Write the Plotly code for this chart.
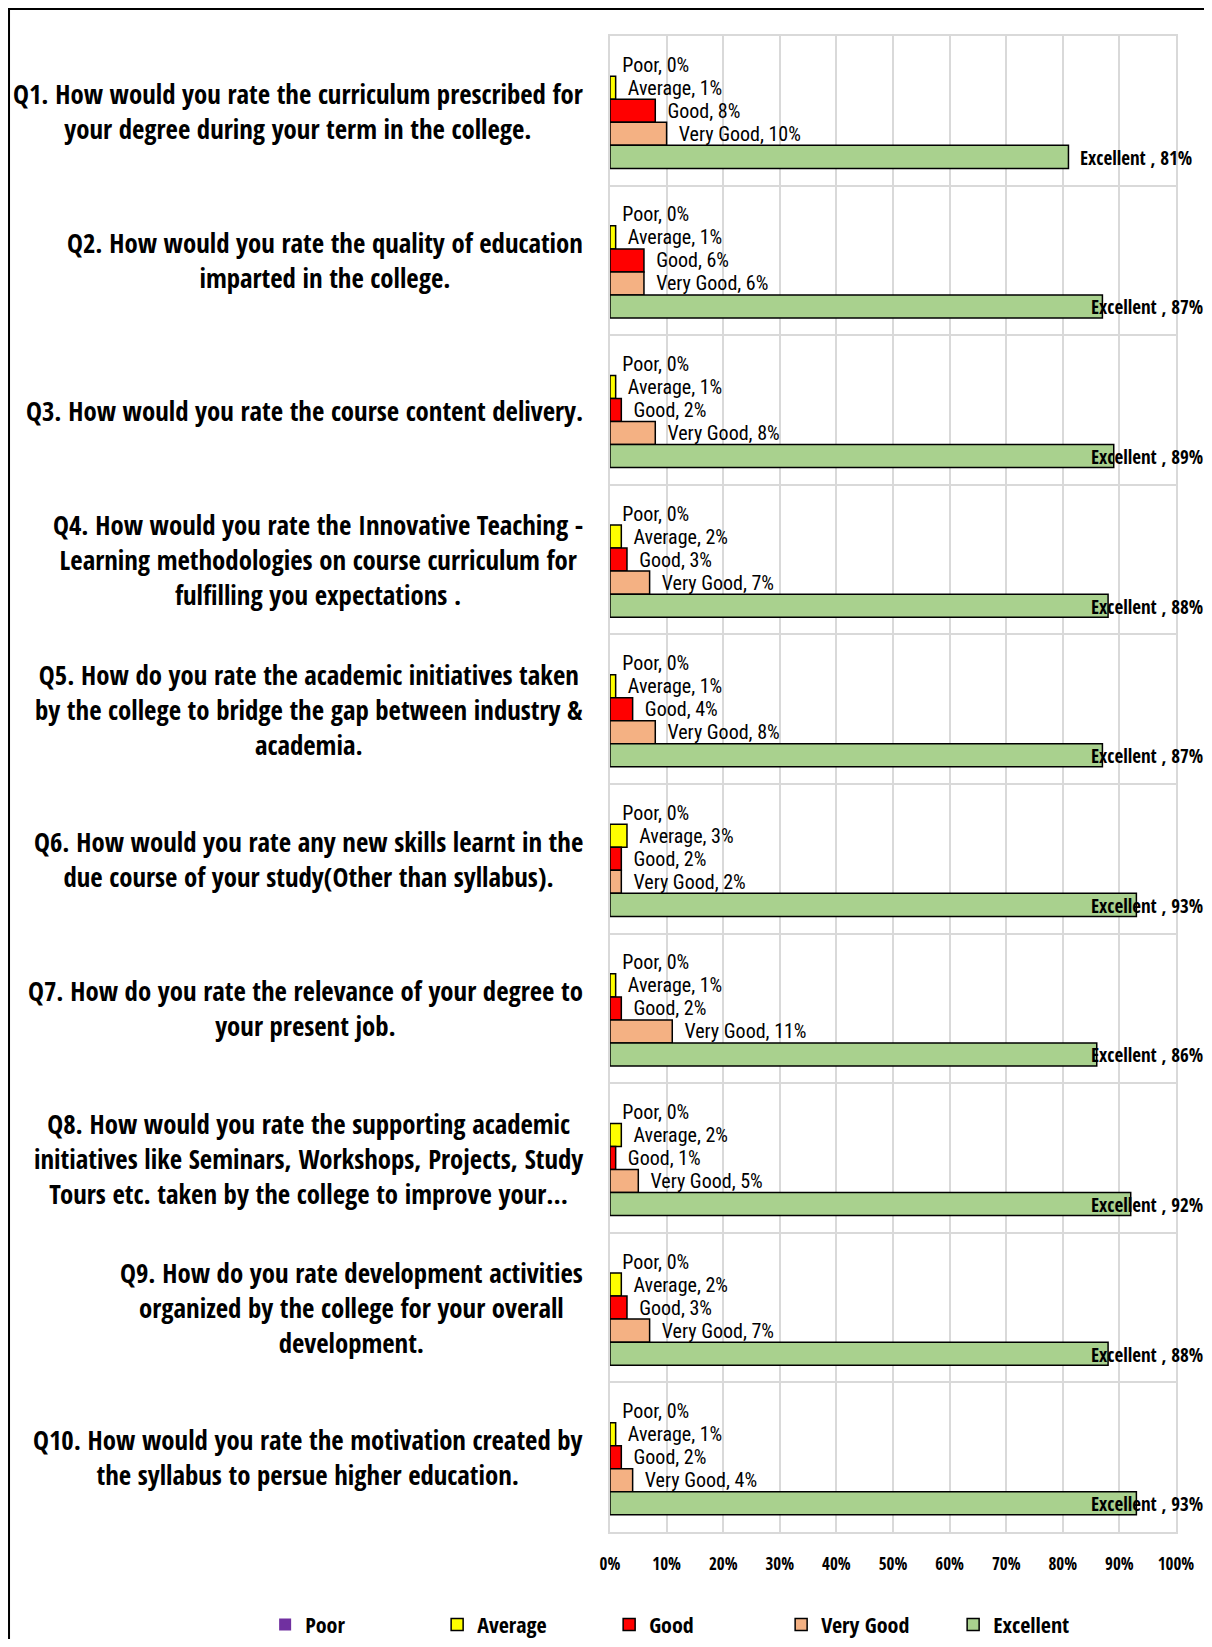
import plotly.graph_objects as go

# ---------------- data ----------------
questions = ["Q1", "Q2", "Q3", "Q4", "Q5", "Q6", "Q7", "Q8", "Q9", "Q10"]
question_lines = [
    ["Q1. How would you rate the curriculum prescribed for", "your degree during your term in the college."],
    ["Q2. How would you rate the quality of education", "imparted in the college."],
    ["Q3. How would you rate the course content delivery."],
    ["Q4. How would you rate the Innovative Teaching -", "Learning methodologies on course curriculum for", "fulfilling you expectations ."],
    ["Q5. How do you rate the academic initiatives taken", "by the college to bridge the gap between industry &amp;", "academia."],
    ["Q6. How would you rate any new skills learnt in the", "due course of your study(Other than syllabus)."],
    ["Q7. How do you rate the relevance of your degree to", "your present job."],
    ["Q8. How would you rate the supporting academic", "initiatives like Seminars, Workshops, Projects, Study", "Tours etc. taken by the college to improve your..."],
    ["Q9. How do you rate development activities", "organized by the college for your overall", "development."],
    ["Q10. How would you rate the motivation created by", "the syllabus to persue higher education."],
]
ratings = ["Poor", "Average", "Good", "Very Good", "Excellent"]
poor = [0, 0, 0, 0, 0, 0, 0, 0, 0, 0]
average = [1, 1, 1, 2, 1, 3, 1, 2, 2, 1]
good = [8, 6, 2, 3, 4, 2, 2, 1, 3, 2]
very_good = [10, 6, 8, 7, 8, 2, 11, 5, 7, 4]
excellent = [81, 87, 89, 88, 87, 93, 86, 92, 88, 93]
x_ticks = [0, 10, 20, 30, 40, 50, 60, 70, 80, 90, 100]

# ---------------- style ----------------
HEAVY = "Open Sans Condensed, Roboto Condensed, DejaVu Sans Condensed, sans-serif"
LIGHT = "Roboto Condensed, DejaVu Sans Condensed, sans-serif"
colors = {"Poor": "#7030A0", "Average": "#FFFF00", "Good": "#FF0000",
          "Very Good": "#F4B183", "Excellent": "#A9D18E"}
series = {"Poor": poor, "Average": average, "Good": good,
          "Very Good": very_good, "Excellent": excellent}
NB = "\u00a0\u00a0"  # small gap between bar end and its label

fig = go.Figure()
for name in ratings:
    vals = series[name]
    kw = {}
    if name != "Excellent":
        kw = dict(text=[f"{NB}{name}, {v}%" for v in vals], textposition="outside",
                  textfont=dict(family=LIGHT, size=20, color="black"),
                  constraintext="none", textangle=0, cliponaxis=False)
    fig.add_trace(go.Bar(
        name=name, y=questions, x=vals, orientation="h",
        marker=dict(color=colors[name],
                    line=dict(color="black", width=0 if name == "Poor" else 1.5)),
        **kw))

annotations = []
# question labels (category labels, centred lines, block right-aligned)
for q, lines in zip(questions, question_lines):
    annotations.append(dict(
        xref="paper", yref="y", x=0, y=q, xanchor="right", yanchor="middle",
        xshift=-25, align="center", showarrow=False,
        text="<br>".join(lines),
        font=dict(family=HEAVY, size=26.8, color="black", weight="bold")))
# Excellent data labels (kept inside the chart area like the original)
for q, v in zip(questions, excellent):
    if v <= 85:
        a = dict(xref="x", x=v, xanchor="left", xshift=10)
    else:
        a = dict(xref="paper", x=1, xanchor="right", xshift=29)
    a.update(yref="y", y=q, yshift=-47, yanchor="middle", showarrow=False,
             text=f"Excellent , {v}%",
             font=dict(family=HEAVY, size=19, color="black", weight="bold"))
    annotations.append(a)

fig.update_layout(
    width=1204, height=1631,
    margin=dict(l=602, r=36, t=28, b=107, autoexpand=False),
    paper_bgcolor="white", plot_bgcolor="white",
    barmode="group", bargap=0.23, bargroupgap=0,
    font=dict(family=LIGHT, color="black"),
    annotations=annotations,
    showlegend=True,
    legend=dict(orientation="h", xref="paper", yref="paper",
                x=-0.6093, y=-0.062, xanchor="left", yanchor="middle",
                entrywidthmode="pixels", entrywidth=127,
                font=dict(family=HEAVY, size=22, color="black", weight="bold"),
                traceorder="normal"),
    shapes=[dict(type="rect", xref="paper", yref="paper",
                 x0=-1.0618, x1=1.3, y0=-0.3, y1=1.018,
                 line=dict(color="black", width=2), fillcolor="rgba(0,0,0,0)")],
)
fig.update_xaxes(range=[0, 100], tickvals=x_ticks, ticktext=[f"{t}%" for t in x_ticks],
                 showgrid=True, gridcolor="#D9D9D9", gridwidth=1.5,
                 showline=True, linecolor="#D9D9D9", linewidth=1.5, mirror=True,
                 zeroline=False, ticks="", ticklabelstandoff=16,
                 tickfont=dict(family=HEAVY, size=17, color="black", weight="bold"))
fig.update_yaxes(type="category", autorange="reversed", tickson="boundaries",
                 showticklabels=False, ticks="",
                 showgrid=True, gridcolor="#D9D9D9", gridwidth=1.5,
                 showline=True, linecolor="#D9D9D9", linewidth=1.5, mirror=True)

fig.write_html("out.html")
